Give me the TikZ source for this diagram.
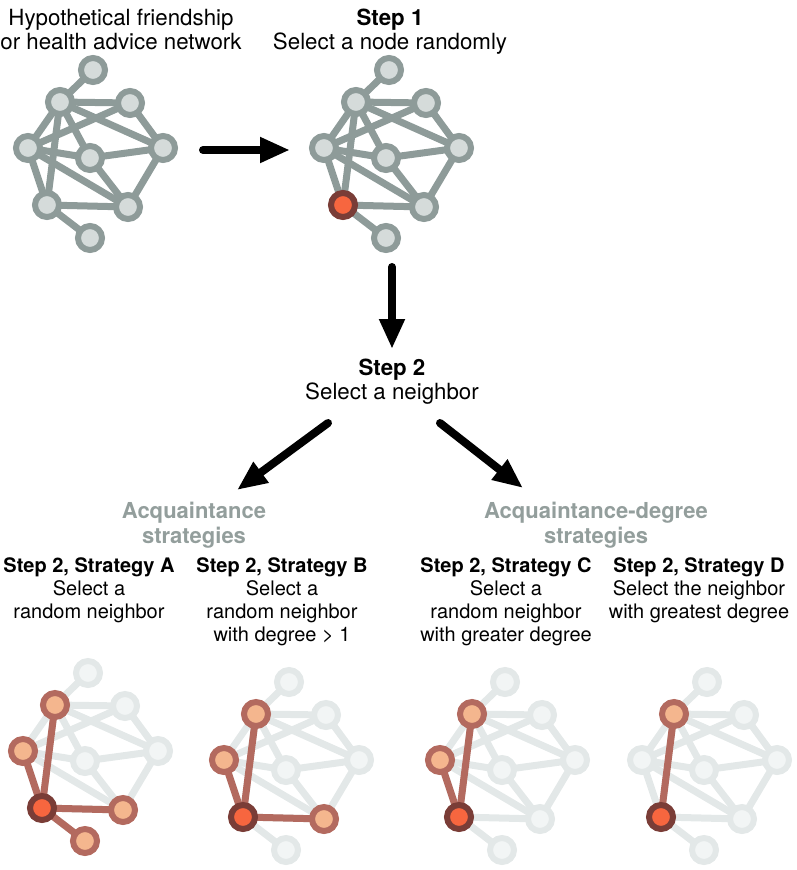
\documentclass[tikz,border=0pt]{standalone}
\usepackage{fontspec}
\setmainfont{TeX Gyre Heros}
\usepackage{tikz}
\usetikzlibrary{arrows.meta}

\definecolor{netgray}{HTML}{8E9B99}
\definecolor{nodegray}{HTML}{D5DBDA}
\definecolor{fadeline}{HTML}{E3E8E8}
\definecolor{fadefill}{HTML}{F2F5F5}
\definecolor{selring}{HTML}{7A3D37}
\definecolor{selfill}{HTML}{F7663F}
\definecolor{nbrring}{HTML}{B36A5F}
\definecolor{nbrfill}{HTML}{F4B68E}
\definecolor{headgray}{HTML}{939E9C}

\begin{document}
\begin{tikzpicture}[x=1pt,y=-1pt,
    edge/.style={line width=7pt},
    ring/.style={line width=6pt},
    bigarrow/.style={line width=8pt,line cap=round,-{Triangle[length=30pt,width=24pt]}},
    big/.style={font=\fontsize{22.3}{24}\selectfont,align=center,inner sep=0pt,anchor=north},
    head/.style={big,font=\fontsize{22}{25}\selectfont\bfseries,text=headgray},
    small/.style={font=\fontsize{20}{23}\selectfont,align=center,inner sep=0pt,anchor=north}]

\useasboundingbox (0,0) rectangle (796,870);

% g = network, s = step 1, a..d = strategies
\foreach \p/\dx/\dy in {g/0/0,s/296/0,a/-5/603,b/196/612,c/412/612,d/614/612}
    \foreach \i/\x/\y in {1/93/70,2/60/102,3/130/103,4/28/148,5/90/158,6/163/148,7/47/205,8/128/207,9/90/238}
        \coordinate (\p\i) at (\x+\dx,\y+\dy);

\foreach \p/\c in {g/netgray,s/netgray,a/fadeline,b/fadeline,c/fadeline,d/fadeline}
    \foreach \u/\v in {1/2,2/3,2/4,2/5,2/6,2/7,3/4,3/6,4/5,4/7,4/8,5/6,5/8,6/8,7/8,7/9}
        \draw[edge,\c] (\p\u) -- (\p\v);

\foreach \p/\l in {a/{2,4,8,9},b/{2,4,8},c/{2,4},d/{2}}
    \foreach \v in \l
        \draw[edge,nbrring] (\p7) -- (\p\v);

\foreach \i in {1,...,9}
    \filldraw[ring,draw=netgray,fill=nodegray] (g\i) circle (12pt);
\foreach \i in {1,2,3,4,5,6,8,9}
    \filldraw[ring,draw=netgray,fill=nodegray] (s\i) circle (12pt);

\foreach \p/\l in {a/{1,3,5,6},b/{1,3,5,6,9},c/{1,3,5,6,8,9},d/{1,3,4,5,6,8,9}}
    \foreach \i in \l
        \filldraw[ring,draw=fadeline,fill=fadefill] (\p\i) circle (12pt);

\foreach \p/\l in {a/{2,4,8,9},b/{2,4,8},c/{2,4},d/{2}}
    \foreach \i in \l
        \filldraw[ring,draw=nbrring,fill=nbrfill] (\p\i) circle (12pt);

\foreach \p in {s,a,b,c,d}
    \filldraw[ring,draw=selring,fill=selfill] (\p7) circle (12pt);

\node[big] (title) at (121,9) {Hypothetical friendship\\or health advice network};
\node[big] (step1) at (390,9) {\textbf{Step 1}\\Select a node randomly};
\node[big] (step2) at (392,359) {\textbf{Step 2}\\Select a neighbor};

\node[head] (acq) at (194,502) {Acquaintance\\strategies};
\node[head] (acqdeg) at (596,502) {Acquaintance-degree\\strategies};

\node[small] (stratA) at (89,557) {\textbf{Step 2, Strategy A}\\Select a\\random neighbor};
\node[small] (stratB) at (282,557) {\textbf{Step 2, Strategy B}\\Select a\\random neighbor\\with degree > 1};
\node[small] (stratC) at (506,557) {\textbf{Step 2, Strategy C}\\Select a\\random neighbor\\with greater degree};
\node[small] (stratD) at (699,557) {\textbf{Step 2, Strategy D}\\Select the neighbor\\with greatest degree};

\coordinate (right0) at (203,150);
\coordinate (right1) at (290,150);
\coordinate (down0) at (392,267);
\coordinate (down1) at (392,349);
\coordinate (left0) at (328,423);
\coordinate (left1) at (237,490);
\coordinate (diag0) at (440,423);
\coordinate (diag1) at (523,488);

\draw[bigarrow] (right0) -- (right1);
\draw[bigarrow] (down0) -- (down1);
\draw[bigarrow] (left0) -- (left1);
\draw[bigarrow] (diag0) -- (diag1);

\end{tikzpicture}
\end{document}
